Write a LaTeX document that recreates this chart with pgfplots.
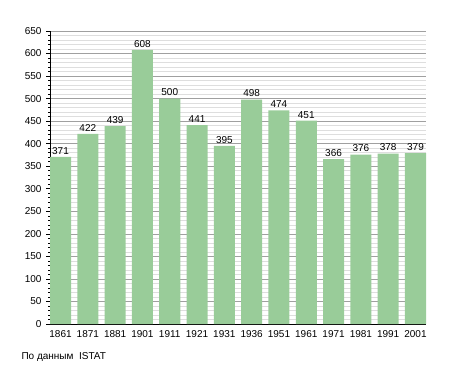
\documentclass[border=0pt]{standalone}
\usepackage{fontspec}
\setmainfont{Liberation Sans}
\usepackage{pgfplots}
\pgfplotsset{compat=1.18}
\definecolor{barg}{RGB}{153,204,153}
\definecolor{majg}{RGB}{160,160,160}
\definecolor{ming}{RGB}{222,222,222}
\begin{document}
\begin{tikzpicture}
\useasboundingbox (0pt,0pt) rectangle (455pt,373pt);
\begin{axis}[
  at={(50pt,49pt)}, anchor=south west,
  scale only axis, width=376pt, height=293pt,
  xmin=-0.385, xmax=13.385, ymin=0, ymax=650,
  axis x line*=bottom, axis y line*=left,
  axis line style={black, line width=0.8pt},
  xtick={0,...,13},
  xticklabels={1861,1871,1881,1901,1911,1921,1931,1936,1951,1961,1971,1981,1991,2001},
  x tick style={draw=none},
  ytick={0,50,...,650},
  minor y tick num=4,
  ymajorgrids, yminorgrids,
  major grid style={majg, line width=0.6pt},
  minor grid style={ming, line width=0.5pt},
  y tick style={black, line width=0.6pt},
  major tick length=4pt, minor tick length=2pt,
  tick align=outside,
  ticklabel style={font=\fontsize{10}{12}\selectfont},
  /pgf/number format/assume math mode=true,
  yticklabel style={xshift=-1pt},
  xticklabel style={yshift=1pt},
  nodes near coords,
  every node near coord/.append style={font=\fontsize{10}{12}\selectfont, yshift=-1pt},
]
\addplot[ybar, bar width=0.77, fill=barg, draw=none] coordinates {
(0,371) (1,422) (2,439) (3,608) (4,500) (5,441) (6,395) (7,498) (8,474) (9,451) (10,366) (11,376) (12,378) (13,379)};
\end{axis}
\node[anchor=west, font=\fontsize{10}{12}\selectfont] at (18pt,16pt) {По данным\ \ ISTAT};
\end{tikzpicture}
\end{document}
